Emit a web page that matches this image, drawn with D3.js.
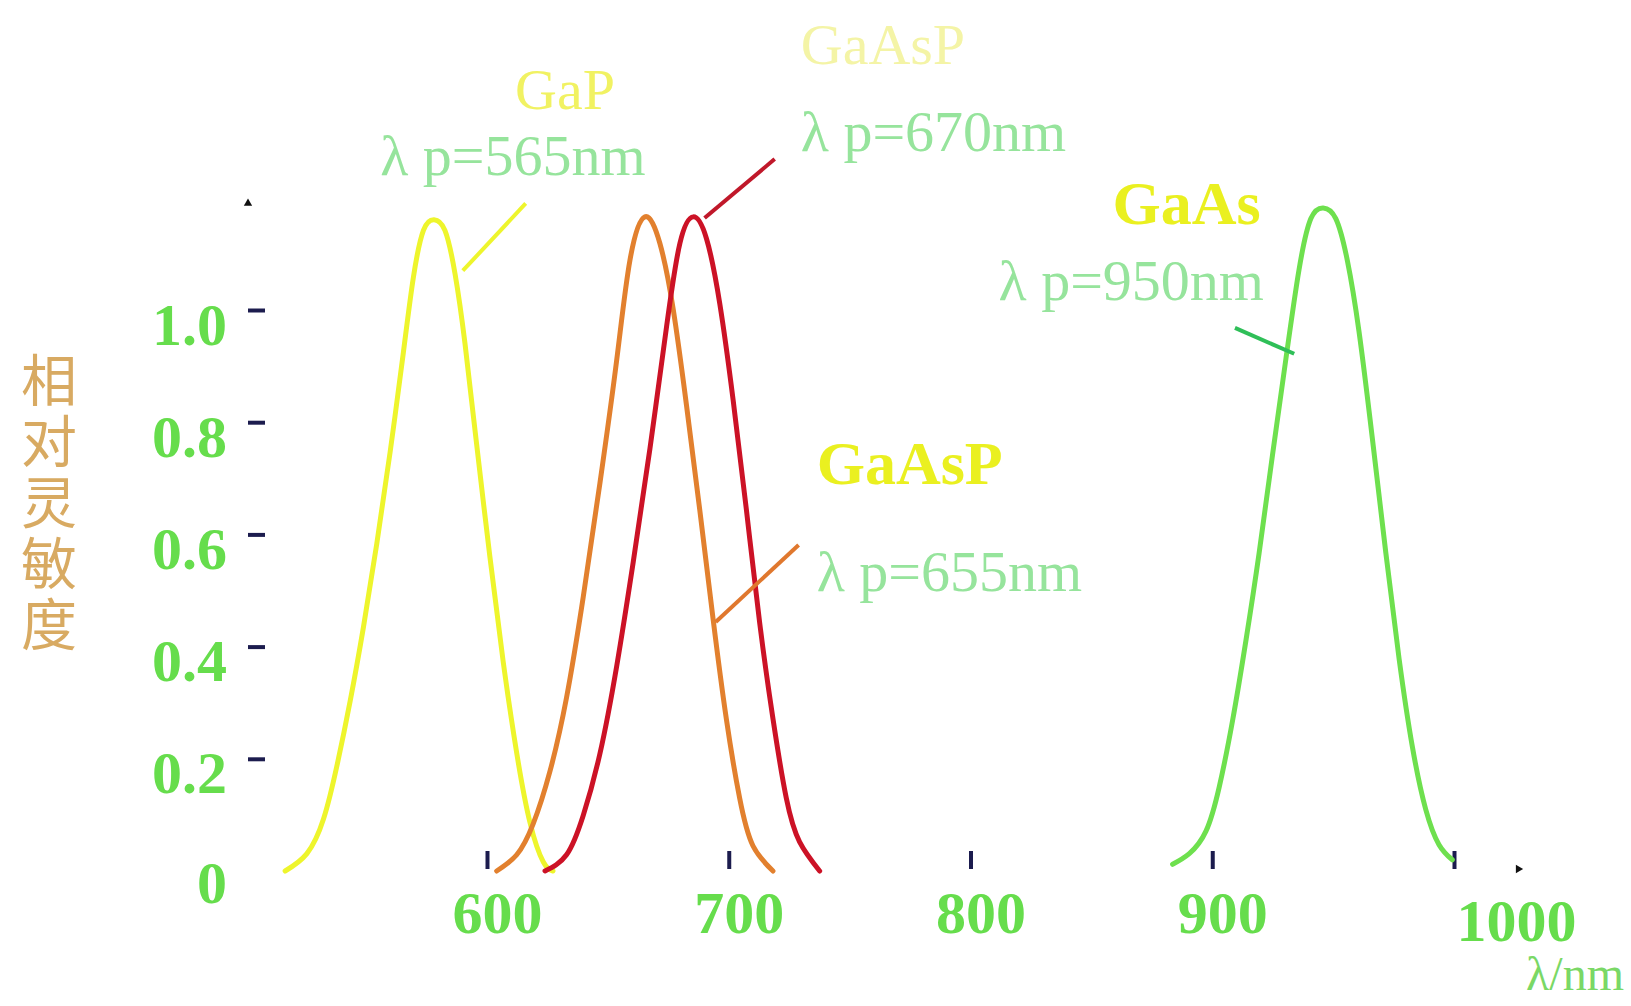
<!DOCTYPE html>
<html>
<head>
<meta charset="utf-8">
<script src="https://cdn.jsdelivr.net/npm/d3@7"></script>
<style>
  body { margin: 0; background: #fff; }
</style>
</head>
<body>
<div id="chart"></div>
<script>
// spectra: wavelength (nm) and relative sensitivity
const gapWl    = [516.5, 525.5, 532.4, 537.9, 543.4, 548.9, 554.4, 559.9, 565.4, 569.5, 573.7, 578.1, 582.6, 586.8, 590.9, 595.7, 601.2, 606.7, 612.3, 617.8, 623.3, 627.3];
const gapVal   = [0, 0.031, 0.093, 0.187, 0.303, 0.435, 0.583, 0.746, 0.924, 1.057, 1.142, 1.161, 1.142, 1.064, 0.94, 0.761, 0.56, 0.373, 0.21, 0.086, 0.016, 0];
const gaasp655Wl  = [604, 612.3, 619.1, 626, 632.9, 639.8, 646.7, 653.6, 659.1, 665.3, 671.5, 677, 682.5, 688, 693.5, 699, 704.5, 710, 718.3];
const gaasp655Val = [0, 0.029, 0.084, 0.177, 0.309, 0.488, 0.691, 0.909, 1.088, 1.166, 1.119, 1.002, 0.831, 0.644, 0.45, 0.271, 0.13, 0.045, 0];
const gaasp670Wl  = [624, 632.9, 639.8, 646.7, 653.6, 660.5, 667.4, 674.3, 679.8, 685.3, 690.8, 696.3, 701.8, 707.3, 712.8, 718.3, 723.8, 729.3, 737.6];
const gaasp670Val = [0, 0.029, 0.099, 0.209, 0.364, 0.551, 0.753, 0.971, 1.119, 1.166, 1.127, 1.011, 0.84, 0.644, 0.442, 0.271, 0.13, 0.052, 0];
const gaasWl   = [883.6, 890.5, 897.4, 902.9, 908.4, 913.9, 919.4, 924.9, 930.5, 935.9, 940.8, 945.9, 951.1, 955.9, 960.7, 966.2, 971.8, 977.3, 982.8, 988.3, 993.8, 999.3];
const gaasVal  = [0.012, 0.031, 0.071, 0.15, 0.268, 0.41, 0.567, 0.741, 0.914, 1.072, 1.163, 1.182, 1.163, 1.088, 0.962, 0.772, 0.567, 0.378, 0.221, 0.11, 0.047, 0.02];

const xTicks = [600, 700, 800, 900, 1000];
const yTicks = [0, 0.2, 0.4, 0.6, 0.8, 1.0];
const yTitle = "相对灵敏度";
const xTitle = "λ/nm";

const series = [
  {name: "GaP",      wl: gapWl,      val: gapVal,      color: "#eef52c"},
  {name: "GaAsP655", wl: gaasp655Wl, val: gaasp655Val, color: "#e2802e"},
  {name: "GaAsP670", wl: gaasp670Wl, val: gaasp670Val, color: "#cc1226"},
  {name: "GaAs",     wl: gaasWl,     val: gaasVal,     color: "#6ee04e"}
];

// leader lines [wl, value] -> [wl, value]
const leaders = [
  {from: [590, 1.07],  to: [616, 1.19],  color: "#eef52c"},
  {from: [690, 1.164], to: [719, 1.269], color: "#c0182a"},
  {from: [694.6, 0.444], to: [728.9, 0.581], color: "#e0782e"},
  {from: [909.4, 0.968], to: [933.9, 0.922], color: "#2fbf58"}
];

// annotation texts, anchored at [wl, value]
const notes = [
  {text: "GaAsP",     at: [729.8, 1.438], color: "#f4f4a6", bold: false},
  {text: "λ p=670nm", at: [729.8, 1.283], color: "#96e49c", bold: false},
  {text: "GaP",       at: [611.6, 1.358], color: "#f1f262", bold: false},
  {text: "λ p=565nm", at: [555.8, 1.241], color: "#96e49c", bold: false},
  {text: "GaAs",      at: [858.7, 1.153], color: "#eaf020", bold: true},
  {text: "λ p=950nm", at: [811.6, 1.018], color: "#96e49c", bold: false},
  {text: "GaAsP",     at: [736.4, 0.690], color: "#eaf020", bold: true},
  {text: "λ p=655nm", at: [736.4, 0.499], color: "#96e49c", bold: false}
];

const width = 1631, height = 1006;
const navy = "#1c1c4e";
const green = "#66dd4c";
const serif = "'Liberation Serif', 'DejaVu Serif', serif";

const svg = d3.select("#chart")
  .append("svg")
  .attr("width", width)
  .attr("height", height);

const x = d3.scaleLinear([600, 1000], [487, 1454]);
const y = d3.scaleLinear([0, 1], [871, 310]);

// y axis: ticks pointing right, no domain line
const yAxis = svg.append("g")
  .attr("transform", `translate(248,0)`)
  .call(d3.axisRight(y).tickValues(yTicks).tickSize(17).tickFormat(d => d === 0 ? "0" : d3.format(".1f")(d)));
yAxis.select(".domain").remove();
yAxis.selectAll(".tick line")
  .attr("stroke", navy)
  .attr("stroke-width", 4)
  .attr("display", d => d === 0 ? "none" : null);
yAxis.selectAll(".tick text")
  .attr("x", -21)
  .attr("y", d => d === 0 ? 31 : 34)
  .attr("dy", null)
  .attr("text-anchor", "end")
  .attr("font-family", serif)
  .attr("font-weight", "bold")
  .attr("font-size", 60)
  .attr("fill", green);

// x axis: ticks pointing up
const xAxis = svg.append("g")
  .attr("transform", `translate(0,${y(0) - 2})`)
  .call(d3.axisBottom(x).tickValues(xTicks).tickSize(-18).tickFormat(d3.format("d")));
xAxis.select(".domain").remove();
xAxis.selectAll(".tick line")
  .attr("stroke", navy)
  .attr("stroke-width", 4);
xAxis.selectAll(".tick text")
  .attr("y", d => d === 1000 ? 72 : 64)
  .attr("x", d => d === 1000 ? 62 : 10)
  .attr("dy", null)
  .attr("font-family", serif)
  .attr("font-weight", "bold")
  .attr("font-size", 60)
  .attr("fill", green);

// small arrowheads at the axis ends
svg.append("path")
  .attr("d", d3.symbol(d3.symbolTriangle, 30)())
  .attr("transform", `translate(248,${y(1.19)})`)
  .attr("fill", "#111");
svg.append("path")
  .attr("d", d3.symbol(d3.symbolTriangle, 30)())
  .attr("transform", `translate(${x(1026.6)},${y(0) - 2}) rotate(90)`)
  .attr("fill", "#111");

svg.append("text")
  .attr("x", 1624)
  .attr("y", 990)
  .attr("text-anchor", "end")
  .attr("font-family", serif)
  .attr("font-size", 48)
  .attr("fill", "#7ad866")
  .text(xTitle);

// y title, written top to bottom
svg.append("text")
  .attr("x", 49)
  .attr("y", 352)
  .attr("writing-mode", "vertical-rl")
  .attr("letter-spacing", 5)
  .attr("font-family", "'Noto Sans CJK SC', sans-serif")
  .attr("font-size", 56)
  .attr("fill", "#d8aa62")
  .text(yTitle);

const line = d3.line()
  .x(d => x(d[0]))
  .y(d => y(d[1]))
  .curve(d3.curveNatural);

svg.append("g")
  .attr("fill", "none")
  .attr("stroke-width", 5)
  .attr("stroke-linecap", "round")
  .selectAll("path")
  .data(series)
  .join("path")
    .attr("stroke", d => d.color)
    .attr("d", d => line(d3.zip(d.wl, d.val)));

svg.append("g")
  .attr("stroke-width", 4)
  .selectAll("line")
  .data(leaders)
  .join("line")
    .attr("x1", d => x(d.from[0]))
    .attr("y1", d => y(d.from[1]))
    .attr("x2", d => x(d.to[0]))
    .attr("y2", d => y(d.to[1]))
    .attr("stroke", d => d.color);

svg.append("g")
  .selectAll("text")
  .data(notes)
  .join("text")
    .attr("x", d => x(d.at[0]))
    .attr("y", d => y(d.at[1]))
    .attr("font-family", serif)
    .attr("font-size", d => d.bold ? 62 : 58)
    .attr("font-weight", d => d.bold ? "bold" : "normal")
    .attr("fill", d => d.color)
    .text(d => d.text);
</script>
</body>
</html>
